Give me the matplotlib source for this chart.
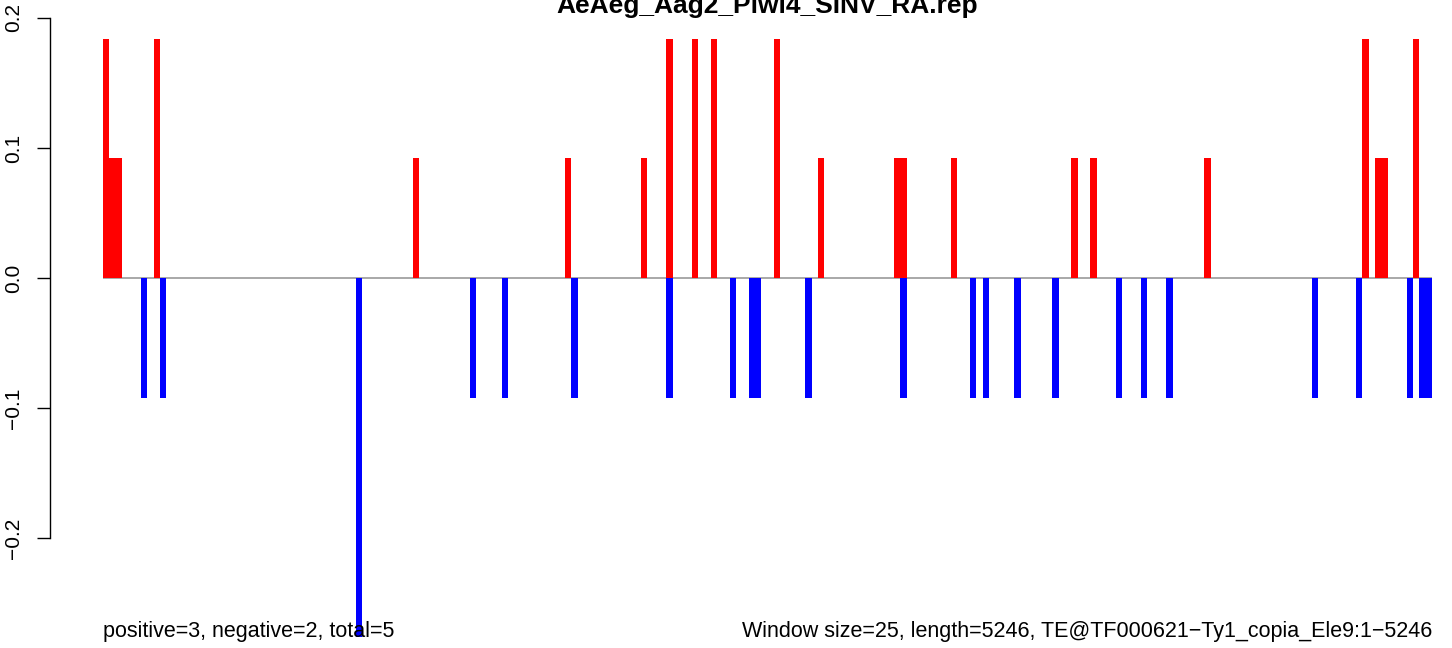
import matplotlib
matplotlib.use("Agg")
import matplotlib.pyplot as plt
from matplotlib.transforms import blended_transform_factory

font = {'family': ['Liberation Sans', 'DejaVu Sans'], 'size': 15}
matplotlib.rc('font', **font)

title = "AeAeg_Aag2_Piwi4_SINV_RA.rep"
n_windows = 210

# window index and normalised read counts (sense above, antisense below)
pos_windows = [0, 1, 2, 8, 49, 73, 85, 89, 93, 96, 106, 113, 125, 126, 134,
               153, 156, 174, 199, 201, 202, 207]
pos_heights = [0.184, 0.092, 0.092, 0.184, 0.092, 0.092, 0.092, 0.184, 0.184,
               0.184, 0.184, 0.092, 0.092, 0.092, 0.092, 0.092, 0.092, 0.092,
               0.184, 0.092, 0.092, 0.184]
neg_windows = [6, 9, 40, 58, 63, 74, 89, 99, 102, 103, 111, 126, 137, 139, 144,
               150, 160, 164, 168, 191, 198, 206, 208, 209]
neg_heights = [-0.092, -0.092, -0.276, -0.092, -0.092, -0.092, -0.092, -0.092,
               -0.092, -0.092, -0.092, -0.092, -0.092, -0.092, -0.092, -0.092,
               -0.092, -0.092, -0.092, -0.092, -0.092, -0.092, -0.092, -0.092]

left_text = "positive=3, negative=2, total=5"
right_text = "Window size=25, length=5246, TE@TF000621\u2212Ty1_copia_Ele9:1\u22125246"

W, H = 1452, 648
fig = plt.figure(figsize=(W / 100, H / 100), dpi=100)
ax = fig.add_axes([50 / W, 0, 1 - 50 / W, 1])

ax.bar(pos_windows, pos_heights, width=1, align='edge', color='red', linewidth=0)
ax.bar(neg_windows, neg_heights, width=1, align='edge', color='blue', linewidth=0)
ax.hlines(0, 0, n_windows, color='#999999', linewidth=1.2, zorder=0)

px = 1329 / n_windows
ax.set_xlim(-53 / px, n_windows + 20 / px)
ax.set_ylim(-0.2 - 110 / 1300, 0.2 + 18 / 1300)

for s in ['top', 'right', 'bottom']:
    ax.spines[s].set_visible(False)
ax.spines['left'].set_bounds(-0.2, 0.2)
ax.spines['left'].set_linewidth(1)
ax.set_xticks([])
ax.set_yticks([-0.2, -0.1, 0.0, 0.1, 0.2])
ax.set_yticklabels(["\u22120.2", "\u22120.1", "0.0", "0.1", "0.2"],
                   rotation=90, va='center')
ax.tick_params(axis='y', length=9.5, width=1, pad=10, labelsize=15)

fig.text(767 / W, 1 - 13 / H, title, ha='center', va='baseline',
         fontsize=19, fontweight='bold')
tr = blended_transform_factory(ax.transData, fig.transFigure)
ax.text(0, 11 / H, left_text, transform=tr, ha='left', va='baseline', fontsize=15.5)
ax.text(n_windows, 11 / H, right_text, transform=tr, ha='right', va='baseline', fontsize=15.5)

fig.savefig("out.png", dpi=100)
